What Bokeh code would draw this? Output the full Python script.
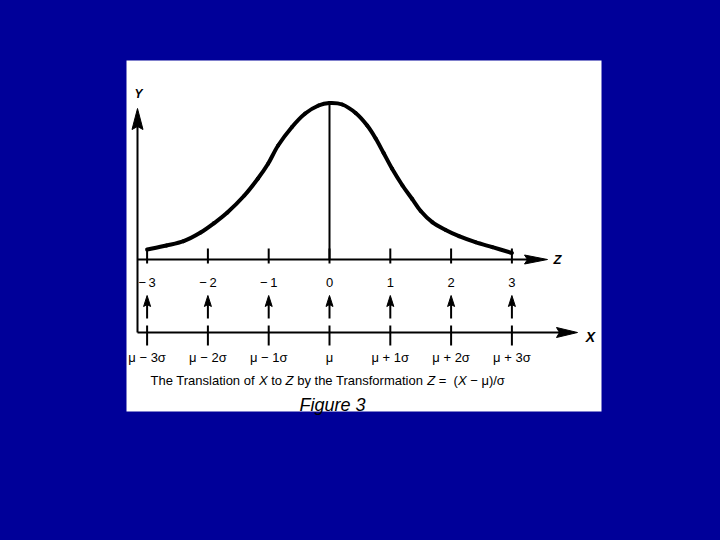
from bokeh.plotting import figure
from bokeh.models import ColumnDataSource, Range1d, Label, GlobalInlineStyleSheet
from bokeh.embed import file_html
from bokeh.resources import INLINE
from bokeh.core.properties import value

# ---------------- data ----------------
Z_TICKS = [-3, -2, -1, 0, 1, 2, 3]
Z_LABELS = ["\u2212\u20093", "\u2212\u20092", "\u2212\u20091", "0", "1", "2", "3"]
X_LABELS = ["\u03bc \u2212 3\u03c3", "\u03bc \u2212 2\u03c3", "\u03bc \u2212 1\u03c3", "\u03bc",
            "\u03bc + 1\u03c3", "\u03bc + 2\u03c3", "\u03bc + 3\u03c3"]

# curve: z position and height above the Z axis
CURVE_Z = [-3.0, -2.68, -2.4, -2.12, -1.9, -1.68, -1.4, -1.18, -1.01, -0.845, -0.62, -0.4,
           -0.18, 0.0, 0.21, 0.43, 0.62, 0.76, 0.89, 1.03, 1.2, 1.36, 1.5, 1.69, 1.91,
           2.13, 2.4, 2.68, 3.0]
CURVE_H = [10, 14, 18.3, 27, 36.3, 47, 64, 80.7, 95.7, 114, 132.3, 146,
           154, 156.5, 155, 146.5, 134, 121, 106.5, 90.7, 74, 60.5, 48.5, 37.3, 29.5,
           23.3, 17.3, 12.3, 6.5]

CAPTION = [("The Translation of ", "normal"), ("X", "italic"), (" to ", "normal"),
           ("Z", "italic"), (" by the Transformation ", "normal"), ("Z", "italic"),
           (" =", "normal"), ("  (", "normal"), ("X", "italic"),
           (" \u2212 \u03bc)/\u03c3", "normal")]
FIGURE_TITLE = "Figure 3"

# ---------------- layout (page pixels) ----------------
BLUE = "#000099"
FONT = "Liberation Sans"
Z0 = 329.0        # page x of z = 0
PPZ = 60.8        # pixels per z unit
ZLINE = 259.0     # page y of Z axis
OX, OY = 0, 0     # page position of the figure's top-left corner


def dx(px):
    return (px - Z0) / PPZ


def dy(py):
    return ZLINE - py


W_FIG, H_FIG = 704, 524
p = figure(width=W_FIG, height=H_FIG,
           x_range=Range1d(dx(OX), dx(OX + W_FIG)), y_range=Range1d(dy(OY + H_FIG), dy(OY)),
           output_backend="svg", toolbar_location=None, min_border=0,
           x_axis_location=None, y_axis_location=None)
p.grid.visible = False
p.outline_line_color = None
p.background_fill_color = BLUE
p.border_fill_color = BLUE
p.stylesheets = [GlobalInlineStyleSheet(css="body { background-color: #000099; }")]

# white panel
p.quad(left=[dx(126)], right=[dx(601)], top=[dy(60)], bottom=[dy(411)],
       fill_color="white", line_color=None)

AX_LEFT = dx(137)
X_AX_Y = dy(332)

# axes lines
p.segment(x0=[AX_LEFT, AX_LEFT, AX_LEFT], y0=[X_AX_Y, 0, X_AX_Y],
          x1=[AX_LEFT, dx(535), dx(566)], y1=[dy(122), 0, X_AX_Y],
          line_color="black", line_width=2)


def head(tip_x, tip_y, direction, length, half_w, notch):
    # patch coordinates for a notched arrowhead (sizes in pixels)
    if direction == "up":
        xs = [tip_x, tip_x + half_w / PPZ, tip_x, tip_x - half_w / PPZ]
        ys = [tip_y, tip_y - length, tip_y - length + notch, tip_y - length]
    else:
        xs = [tip_x, tip_x - length / PPZ, tip_x - (length - notch) / PPZ, tip_x - length / PPZ]
        ys = [tip_y, tip_y + half_w, tip_y, tip_y - half_w]
    return xs, ys


heads_x, heads_y = [], []
for hx, hy in [head(AX_LEFT, dy(108), "up", 21, 5.5, 3),
               head(dx(547), 0, "right", 23, 4.5, 3),
               head(dx(577), X_AX_Y, "right", 21, 5, 3)]:
    heads_x.append(hx)
    heads_y.append(hy)
for z in Z_TICKS:
    hx, hy = head(z, dy(295), "up", 11, 3.5, 2)
    heads_x.append(hx)
    heads_y.append(hy)
p.patches(heads_x, heads_y, fill_color="black", line_color="black", line_width=1)

# ticks, small arrow shafts
p.segment(x0=Z_TICKS, y0=[dy(263)] * 7, x1=Z_TICKS, y1=[dy(248)] * 7,
          line_color="black", line_width=2)
p.segment(x0=Z_TICKS, y0=[dy(345)] * 7, x1=Z_TICKS, y1=[dy(325)] * 7,
          line_color="black", line_width=2)
p.segment(x0=Z_TICKS, y0=[dy(318)] * 7, x1=Z_TICKS, y1=[dy(303)] * 7,
          line_color="black", line_width=2)

# mean line
p.segment(x0=[0], y0=[0], x1=[0], y1=[max(CURVE_H)], line_color="black", line_width=2)

# curve drawn as a smooth path through the read points (Catmull-Rom -> cubic Bezier)
n = len(CURVE_Z)
bx0, by0, bx1, by1, cx0, cy0, cx1, cy1 = [], [], [], [], [], [], [], []
for i in range(n - 1):
    i0, i3 = max(i - 1, 0), min(i + 2, n - 1)
    x0, y0 = CURVE_Z[i], CURVE_H[i]
    x1, y1 = CURVE_Z[i + 1], CURVE_H[i + 1]
    bx0.append(x0); by0.append(y0); bx1.append(x1); by1.append(y1)
    cx0.append(x0 + (x1 - CURVE_Z[i0]) / 6.0)
    cy0.append(y0 + (y1 - CURVE_H[i0]) / 6.0)
    cx1.append(x1 - (CURVE_Z[i3] - x0) / 6.0)
    cy1.append(y1 - (CURVE_H[i3] - y0) / 6.0)
p.bezier(x0=bx0, y0=by0, x1=bx1, y1=by1, cx0=cx0, cy0=cy0, cx1=cx1, cy1=cy1,
         line_color="black", line_width=4, line_cap="round")

# tick labels
src = ColumnDataSource(dict(z=Z_TICKS, zl=Z_LABELS, xl=X_LABELS,
                            yz=[dy(282)] * 7, yx=[dy(356.5)] * 7))
p.text(x="z", y="yz", text="zl", source=src, text_font=value(FONT), text_font_size="13px",
       text_align="center", text_baseline="alphabetic", text_color="black")
p.text(x="z", y="yx", text="xl", source=src, text_font=value(FONT), text_font_size="13px",
       text_align="center", text_baseline="alphabetic", text_color="black")

# axis names
for txt, px, py, size in [("Y", 138, 93, "12px"), ("Z", 557, 259, "13px"), ("X", 590, 336, "14px")]:
    p.add_layout(Label(x=dx(px), y=dy(py), text=txt, text_font=FONT, text_font_size=size,
                       text_font_style="bold italic", text_align="center",
                       text_baseline="middle", text_color="black"))

# caption built from pieces
W = {'T': 611, 'h': 556, 'e': 556, ' ': 278, 'r': 333, 'a': 556, 'n': 556, 's': 500,
     'l': 222, 't': 278, 'i': 222, 'o': 556, 'f': 278, 'X': 667, 'Z': 611, 'b': 556,
     'y': 500, 'm': 833, '=': 584, '(': 333, ')': 333, '\u2212': 584, '\u03bc': 576,
     '/': 278, '\u03c3': 617}
CAP_SIZE = 13


def tw(s):
    return sum(W.get(c, 556) for c in s) * CAP_SIZE / 1000.0


cursor = 150.0
for piece, style in CAPTION:
    lead = len(piece) - len(piece.lstrip(" "))
    start = cursor + lead * W[' '] * CAP_SIZE / 1000.0
    p.add_layout(Label(x=dx(start), y=dy(379.5), text=piece.strip(" "), text_font=FONT,
                       text_font_size="%dpx" % CAP_SIZE, text_font_style=style,
                       text_align="left", text_baseline="alphabetic", text_color="black"))
    cursor += tw(piece)

p.add_layout(Label(x=dx(332), y=dy(404), text=FIGURE_TITLE, text_font=FONT,
                   text_font_size="18px", text_font_style="italic", text_align="center",
                   text_baseline="alphabetic", text_color="black"))

open("out.html", "w").write(file_html(p, INLINE))
